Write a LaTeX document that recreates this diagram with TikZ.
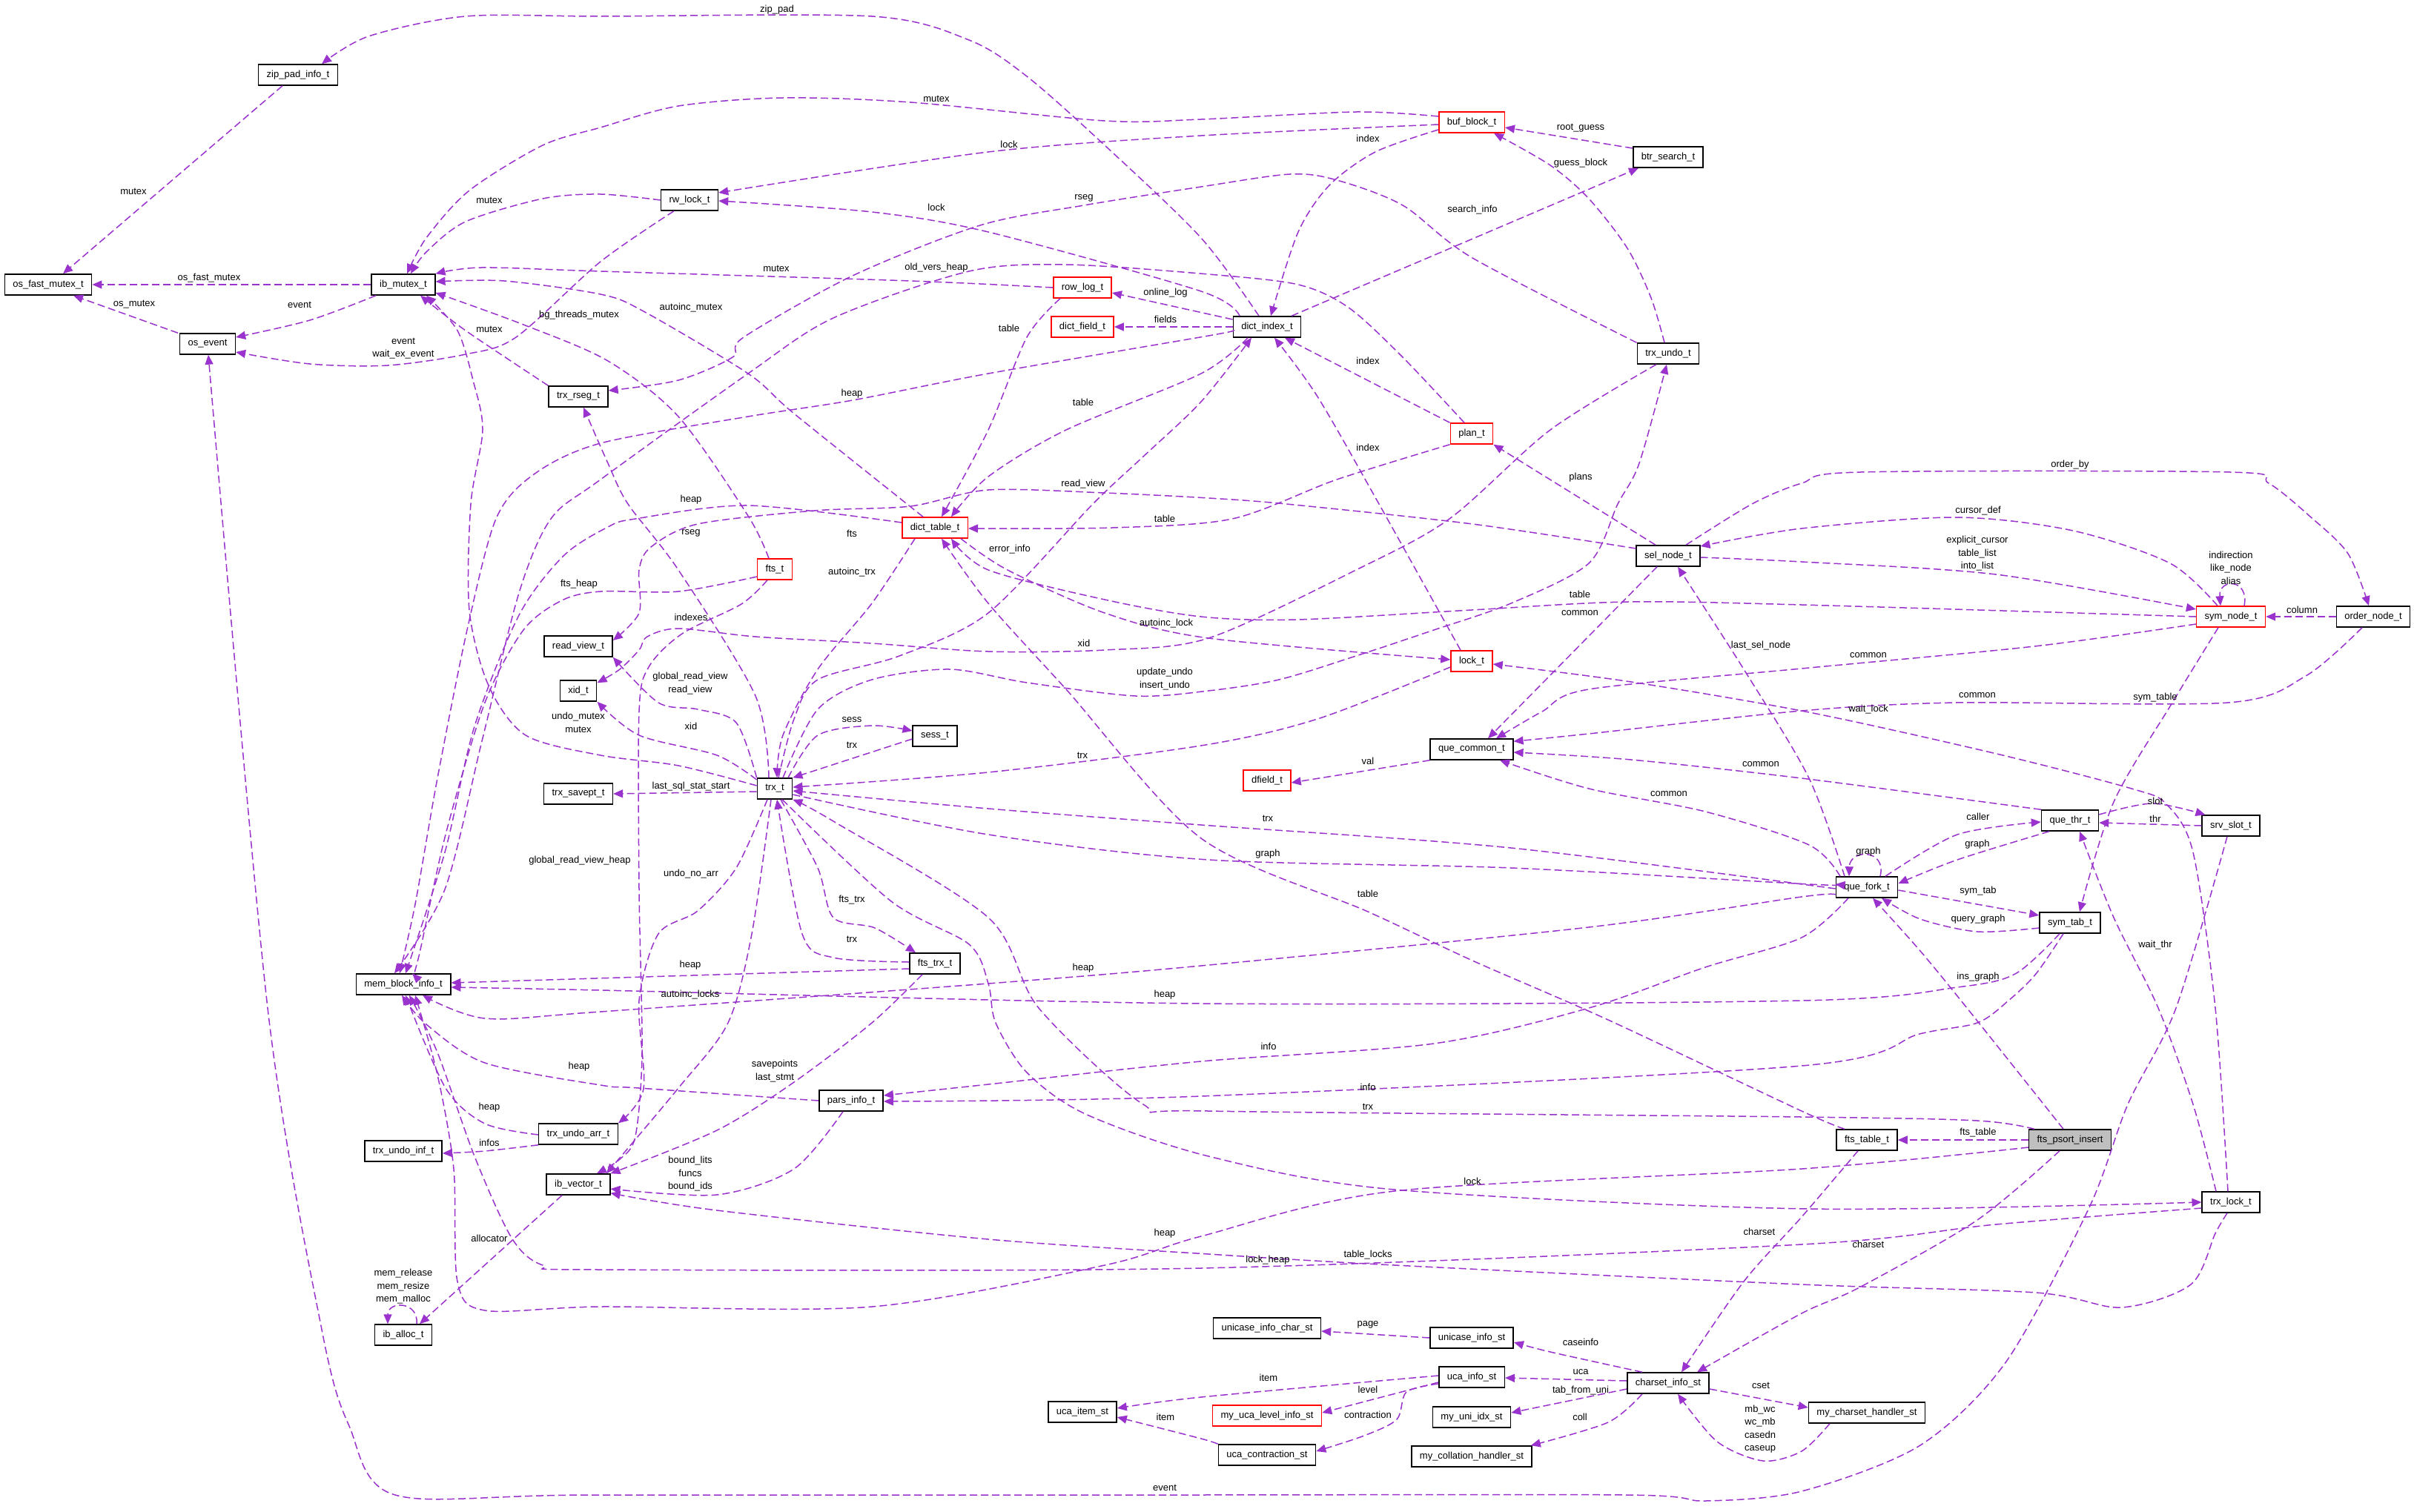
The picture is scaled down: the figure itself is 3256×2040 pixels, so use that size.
\documentclass[tikz,border=0pt]{standalone}
\usepackage{fontspec}
\setmainfont{Liberation Sans}
\usetikzlibrary{arrows.meta}
\definecolor{edgec}{HTML}{9A32CD}
\definecolor{greyfill}{HTML}{BFBFBF}
\begin{document}
\begin{tikzpicture}[x=1pt,y=-1pt,
  box/.style={draw=black,line width=1.5pt,fill=white,minimum height=28pt,inner xsep=11pt,inner ysep=2pt,font=\fontsize{13}{17.5}\selectfont},
  rbox/.style={box,draw=red},
  gbox/.style={box,fill=greyfill},
  edge/.style={draw=edgec,line width=1.5pt,dash pattern=on 10pt off 5pt,-{Triangle[length=13pt,width=11pt]}},
  lbl/.style={font=\fontsize{13}{17.5}\selectfont,inner sep=0pt,align=center}]
\fill[white] (0,0) rectangle (3256,2040);
\useasboundingbox (0,0) rectangle (3256,2040);
% ---------------- nodes
\node[box] (zip) at (402,101) {zip\_pad\_info\_t};
\node[box] (osfm) at (65,384) {os\_fast\_mutex\_t};
\node[box] (ibm) at (544,384) {ib\_mutex\_t};
\node[box] (osev) at (280,464) {os\_event};
\node[box] (rseg) at (780,535) {trx\_rseg\_t};
\node[box] (rwl) at (930,270) {rw\_lock\_t};
\node[rbox] (rowlog) at (1460,388) {row\_log\_t};
\node[rbox] (dfield) at (1460,441) {dict\_field\_t};
\node[rbox] (dtable) at (1261,712) {dict\_table\_t};
\node[rbox] (buf) at (1985,165) {buf\_block\_t};
\node[box] (btr) at (2250,212) {btr\_search\_t};
\node[box] (dindex) at (1709,441) {dict\_index\_t};
\node[box] (undo) at (2250,477) {trx\_undo\_t};
\node[rbox] (plan) at (1985,585) {plan\_t};
\node[box] (rview) at (780,872) {read\_view\_t};
\node[box] (xid) at (780,932) {xid\_t};
\node[box] (savept) at (780,1071) {trx\_savept\_t};
\node[box] (mem) at (544,1328) {mem\_block\_info\_t};
\node[rbox] (fts) at (1045,768) {fts\_t};
\node[box] (sess) at (1261,993) {sess\_t};
\node[box] (trx) at (1045,1064) {trx\_t};
\node[box] (ftstrx) at (1261,1300) {fts\_trx\_t};
\node[box] (sel) at (2250,750) {sel\_node\_t};
\node[rbox] (lock) at (1985,892) {lock\_t};
\node[box] (qcommon) at (1985,1011) {que\_common\_t};
\node[rbox] (dfieldt) at (1709,1053) {dfield\_t};
\node[rbox] (sym) at (3009,832) {sym\_node\_t};
\node[box] (order) at (3201,832) {order\_node\_t};
\node[box] (qthr) at (2792,1107) {que\_thr\_t};
\node[box] (slot) at (3009,1114) {srv\_slot\_t};
\node[box] (qfork) at (2518,1197) {que\_fork\_t};
\node[box] (symtab) at (2792,1245) {sym\_tab\_t};
\node[box] (undoinf) at (544,1553) {trx\_undo\_inf\_t};
\node[box] (undoarr) at (780,1530) {trx\_undo\_arr\_t};
\node[box] (vec) at (780,1598) {ib\_vector\_t};
\node[box] (alloc) at (544,1801) {ib\_alloc\_t};
\node[box] (pars) at (1148,1485) {pars\_info\_t};
\node[box] (ucaitem) at (1460,1905) {uca\_item\_st};
\node[box] (uichar) at (1709,1792) {unicase\_info\_char\_st};
\node[box] (uinfo) at (1985,1805) {unicase\_info\_st};
\node[box] (ucainfo) at (1985,1858) {uca\_info\_st};
\node[rbox] (ucalevel) at (1709,1910) {my\_uca\_level\_info\_st};
\node[box] (uniidx) at (1985,1912) {my\_uni\_idx\_st};
\node[box] (ucacontr) at (1709,1963) {uca\_contraction\_st};
\node[box] (collh) at (1985,1965) {my\_collation\_handler\_st};
\node[box] (cs) at (2250,1866) {charset\_info\_st};
\node[box] (ftstable) at (2518,1538) {fts\_table\_t};
\node[gbox] (psort) at (2792,1538) {fts\_psort\_insert};
\node[box] (trxlock) at (3009,1622) {trx\_lock\_t};
\node[box] (csh) at (2518,1906) {my\_charset\_handler\_st};
% ---------------- edges
\draw[edge] ([xshift=-21pt]zip.south) -- ([xshift=20pt]osfm.north);
\draw[edge] plot[smooth] coordinates {([xshift=-11pt]dindex.north) (1620,321) (1490,196) (1385,103) (1307,54) (1176,22) (810,22) (628,22) (497,49) ([xshift=32pt]zip.north)};
\draw[edge] (ibm) -- (osfm);
\draw[edge] plot[smooth] coordinates {([xshift=-37pt]ibm.south) (418,432) ([yshift=9pt]osev.east)};
\draw[edge] ([xshift=-40pt]osev.north) -- ([xshift=34pt]osfm.south);
\draw[edge] plot[smooth] coordinates {(rwl.west) (810,262) (732,268) (628,299) (575,340) ([xshift=10pt]ibm.north)};
\draw[edge] plot[smooth] coordinates {([xshift=-21pt]rwl.south) (810,353) (696,455) (628,478) (523,493) (418,491) ([yshift=-11pt]osev.east)};
\draw[edge] plot[smooth] coordinates {([yshift=8pt]buf.west) (1829,151) (1620,161) (1490,163) (1228,138) (1056,132) (915,143) (810,172) (732,196) (633,257) (575,321) ([xshift=5pt]ibm.north)};
\draw[edge] plot[smooth] coordinates {([yshift=-3pt]buf.west) (1620,183) (1333,205) ([yshift=10pt]rwl.east)};
\draw[edge] plot[smooth] coordinates {([yshift=-10pt]buf.west) (1855,205) (1793,250) (1751,313) ([xshift=5pt]dindex.north)};
\draw[edge] ([yshift=12pt]btr.west) -- ([yshift=-7pt]buf.east);
\draw[edge] ([xshift=33pt]dindex.north) -- ([xshift=-40pt]btr.south);
\draw[edge] plot[smooth] coordinates {([xshift=-5pt]undo.north) (2227,402) (2195,335) (2143,268) (2091,223) ([xshift=30pt]buf.south)};
\draw[edge] plot[smooth] coordinates {([xshift=-37pt]dindex.north) (1620,393) (1333,313) (1176,286) ([yshift=-1pt]rwl.east)};
\draw[edge] plot[smooth] coordinates {(undo.north west) (1986,348) (1892,277) (1803,243) (1740,235) (1620,252) (1462,277) (1322,304) (1150,372) (1003,455) (988,482) (915,513) ([yshift=8pt]rseg.east)};
\draw[edge] plot[smooth] coordinates {(rowlog.west) (1228,379) (810,366) (649,361) (ibm.north east)};
\draw[edge] plot[smooth] coordinates {([xshift=-30pt]rowlog.south) (1385,455) (1333,580) ([xshift=9pt]dtable.north)};
\draw[edge] ([yshift=10pt]dindex.west) -- ([yshift=-7pt]rowlog.east);
\draw[edge] (dindex.west) -- (dfield.east);
\draw[edge] plot[smooth] coordinates {([xshift=-26pt]dindex.south) (1620,504) (1438,580) (1333,643) ([xshift=22pt]dtable.north)};
\draw[edge] plot[smooth] coordinates {([yshift=-5pt]dindex.west) (1630,453) (1333,504) (1150,540) (1009,562) (810,598) (720,640) (669,700) (630,850) (590,1050) (560,1220) ([xshift=-5pt]mem.north)};
\draw[edge] (plan.north west) -- ([xshift=24pt]dindex.south);
\draw[edge] plot[smooth] coordinates {(plan.south west) (1803,647) (1662,700) (1500,712) ([yshift=-1pt]dtable.east)};
\draw[edge] plot[smooth] coordinates {([xshift=-15pt]lock.north) (1860,680) (1777,535) ([xshift=10pt]dindex.south)};
\draw[edge] ([xshift=-17pt]sel.north) -- (plan.south east);
\draw[edge] plot[smooth] coordinates {([xshift=11pt]trx.north) (1103,957) (1176,917) (1281,903) (1385,921) (1532,939) (1630,932) (1725,917) (1829,885) (1934,850) (2038,814) (2143,760) (2182,680) (2211,625) ([xshift=-2pt]undo.south)};
\draw[edge] plot[smooth] coordinates {([xshift=5pt]trx.north) (1071,970) (1103,917) (1213,885) (1333,827) (1474,680) (1542,616) (1620,542) ([xshift=-21pt]dindex.south)};
\draw[edge] plot[smooth] coordinates {([xshift=-27pt]dtable.south) (1176,814) (1103,903) (1056,992) ([xshift=3pt]trx.north)};
\draw[edge] plot[smooth] coordinates {([yshift=7pt]dtable.west) (1009,682) (857,700) (820,711) (760,750) (700,830) (640,980) (600,1150) ([xshift=3pt]mem.north)};
\draw[edge] plot[smooth] coordinates {([yshift=10pt]sel.west) (1986,707) (1735,680) (1630,672) (1490,665) (1333,661) (1228,683) (1098,689) (941,707) (878,738) (862,769) (862,827) ([yshift=8pt]rview.east)};
\draw[edge] plot[smooth] coordinates {([xshift=-10pt]plan.north) (1892,482) (1819,415) (1751,384) (1630,370) (1438,357) (1307,366) (1124,429) (1009,504) (810,647) (743,700) (700,800) (650,1000) (600,1200) ([xshift=-12pt]mem.north)};
\draw[edge] plot[smooth] coordinates {([yshift=-8pt]lock.west) (1777,970) (1620,1006) (1333,1042) ([yshift=2pt]trx.east)};
\draw[edge] plot[smooth] coordinates {([xshift=35pt]dtable.south) (1359,769) (1490,827) (1630,861) ([yshift=2pt]lock.west)};
\draw[edge] plot[smooth] coordinates {(sym.west) (2430,816) (2195,812) (1985,823) (1750,836) (1620,832) (1490,809) (1333,769) ([xshift=22pt]dtable.south)};
\draw[edge] plot[smooth] coordinates {([xshift=-30pt]ftstable.north) (2430,1499) (2169,1376) (1986,1296) (1845,1230) (1620,1131) (1438,930) (1333,814) ([xshift=9pt]dtable.south)};
\draw[edge] plot[smooth] coordinates {([xshift=24pt]sel.north) (2363,680) (2430,652) (2509,637) (3008,637) (3060,652) (3116,697) (3167,747) ([xshift=-6pt]order.north)};
\draw[edge] plot[smooth] coordinates {([xshift=-18pt]sym.north) (2927,760) (2796,716) (2639,698) (2430,713) ([yshift=13pt]sel.east)};
\draw[edge] plot[smooth] coordinates {([yshift=-2pt]sel.east) (2430,758) (2692,775) ([yshift=10pt]sym.west)};
\draw[edge] ([xshift=18pt]sym.north) .. controls (3034,780) and (2992,780) .. ([xshift=-14pt]sym.north);
\draw[edge] (order) -- (sym);
\draw[edge] plot[smooth] coordinates {([yshift=-10pt]sym.west) (2744,872) (2430,902) (2143,930) (2080,960) ([xshift=33pt]qcommon.north)};
\draw[edge] ([xshift=-15pt]sel.south) -- ([xshift=22pt]qcommon.north);
\draw[edge] plot[smooth] coordinates {([xshift=-15pt]order.south) (3110,912) (3005,948) (2638,948) (2430,959) (2143,990) ([yshift=-4pt]qcommon.north east)};
\draw[edge] plot[smooth] coordinates {(qthr.north west) (2430,1050) (2200,1025) ([yshift=-4pt]qcommon.east)};
\draw[edge] plot[smooth] coordinates {([xshift=-36pt]qfork.north) (2440,1140) (2300,1095) (2143,1064) ([xshift=38pt]qcommon.south)};
\draw[edge] plot[smooth] coordinates {(qcommon.south west) (1829,1042) ([yshift=-3pt]dfieldt.east)};
\draw[edge] plot[smooth] coordinates {([xshift=-17pt]sym.south) (2930,948) (2851,1082) ([xshift=13pt]symtab.north)};
\draw[edge] plot[smooth] coordinates {([xshift=-4pt]trxlock.north) (2988,1360) (2958,1150) (2922,1085) (2875,1064) (2693,1017) (2440,961) (2200,920) ([yshift=-4pt]lock.east)};
\draw[edge] plot[smooth] coordinates {([xshift=-20pt]trxlock.north) (2958,1490) (2911,1360) (2851,1238) ([xshift=13pt]qthr.south)};
\draw[edge] plot[smooth] coordinates {([yshift=8pt]qthr.east) (2903,1084) ([xshift=5pt]slot.north west)};
\draw[edge] (slot.west) -- ([yshift=-3pt]qthr.east);
\draw[edge] plot[smooth] coordinates {([xshift=-5pt]slot.south) (2935,1360) (2870,1490) (2818,1629) (2706,1837) (2590,1950) (2430,2012) (2300,2025) (2195,2017) (1571,2017) (800,2017) (533,2017) (471,1924) (434,1794) (361,1360) ([xshift=1pt]osev.south)};
\draw[edge] plot[smooth] coordinates {([xshift=-28pt]qthr.south) (2640,1160) ([yshift=5pt]qfork.east)};
\draw[edge] plot[smooth] coordinates {([xshift=25pt]qfork.north) (2640,1126) ([yshift=-2pt]qthr.west)};
\draw[edge] ([xshift=18pt]qfork.north) .. controls (2545,1145) and (2495,1145) .. ([xshift=-24pt]qfork.north);
\draw[edge] ([yshift=-4pt]qfork.east) -- ([yshift=10pt]symtab.west);
\draw[edge] plot[smooth] coordinates {([yshift=-7pt]symtab.west) (2667,1257) (2590,1240) ([xshift=20pt]qfork.south)};
\draw[edge] plot[smooth] coordinates {([xshift=-30pt]qfork.north) (2440,1050) (2352,903) ([xshift=13pt]sel.south)};
\draw[edge] plot[smooth] coordinates {([yshift=-8pt]trx.east) (1333,1126) (1630,1160) (2038,1171) (2440,1193) ([yshift=4pt]qfork.west)};
\draw[edge] plot[smooth] coordinates {([yshift=-2pt]qfork.west) (2038,1144) (1620,1113) (1333,1091) ([yshift=-3pt]trx.east)};
\draw[edge] plot[smooth] coordinates {([yshift=-10pt]qfork.west) (2430,1210) (2143,1251) (1620,1303) (1333,1327) (810,1365) (654,1374) ([xshift=26pt]mem.south)};
\draw[edge] plot[smooth] coordinates {([xshift=-14pt]symtab.south) (2718,1314) (2640,1332) (2430,1350) (1620,1354) (810,1336) ([yshift=-4pt]mem.east)};
\draw[edge] ([yshift=-7pt]ftstrx.west) -- ([yshift=2pt]mem.east);
\draw[edge] plot[smooth] coordinates {([xshift=-9pt]symtab.south) (2746,1314) (2709,1350) (2667,1380) (2589,1395) (2430,1438) (1620,1479) ([yshift=-1pt]pars.east)};
\draw[edge] plot[smooth] coordinates {([xshift=-25pt]qfork.south) (2430,1265) (2300,1305) (2143,1360) (1934,1408) (1620,1432) (1333,1463) ([yshift=7pt]pars.east)};
\draw[edge] plot[smooth] coordinates {([xshift=-9pt]psort.north) (2653,1360) (2590,1283) ([xshift=8pt]qfork.south)};
\draw[edge] (psort) -- (ftstable);
\draw[edge] plot[smooth] coordinates {([xshift=-48pt]psort.north) (2667,1512) (2430,1507) (1630,1499) (1542,1490) (1401,1360) (1333,1238) (1124,1108) (trx.south east)};
\draw[edge] plot[smooth] coordinates {([xshift=-14pt]psort.south) (2667,1646) (2508,1737) (2430,1772) ([xshift=39pt]cs.north)};
\draw[edge] plot[smooth] coordinates {([xshift=-12pt]ftstable.south) (2430,1642) (2352,1729) ([xshift=18pt]cs.north)};
\draw[edge] plot[smooth] coordinates {([yshift=-10pt]psort.west) (2430,1577) (1881,1607) (1620,1668) (1490,1707) (1176,1763) (810,1763) (654,1768) (617,1729) (612,1577) (590,1450) ([xshift=16pt]mem.south)};
\draw[edge] plot[smooth] coordinates {([xshift=10pt]trx.south) (1202,1216) (1307,1274) (1333,1327) (1343,1380) (1385,1447) (1464,1503) (1630,1560) (1881,1605) (2440,1631) (trxlock.west)};
\draw[edge] plot[smooth] coordinates {([yshift=-8pt]trxlock.west) (2692,1652) (2430,1679) (1620,1711) (810,1713) (732,1707) (690,1670) (640,1560) (590,1420) ([xshift=8pt]mem.south)};
\draw[edge] plot[smooth] coordinates {([xshift=-5pt]trxlock.south) (2988,1664) (2955,1733) (2861,1764) (2746,1744) (2430,1733) (1881,1707) (1630,1692) (1333,1672) (967,1633) ([yshift=3pt]vec.south east)};
\draw[edge] plot[smooth] coordinates {([xshift=-5pt]trx.south) (1014,1260) (982,1380) (915,1468) ([xshift=38pt]vec.north)};
\draw[edge] plot[smooth] coordinates {([xshift=-10pt]trx.south) (993,1171) (941,1229) (888,1260) (862,1350) (868,1469) (undoarr.north east)};
\draw[edge] plot[smooth] coordinates {([xshift=-10pt]fts.south) (1000,815) (920,855) (875,900) (862,960) (862,1200) (866,1420) (857,1533) (836,1564) ([xshift=25pt]vec.north)};
\draw[edge] plot[smooth] coordinates {([yshift=-10pt]fts.west) (915,798) (810,798) (758,810) (706,850) (654,948) (601,1126) (565,1290) ([xshift=12pt]mem.north)};
\draw[edge] plot[smooth] coordinates {([xshift=-8pt]fts.north) (1009,696) (915,562) (820,487) (706,438) ([yshift=-11pt]ibm.east)};
\draw[edge] plot[smooth] coordinates {([xshift=-16pt]dtable.north) (1071,558) (1009,504) (868,420) (810,397) (680,379) ([yshift=4pt]ibm.east)};
\draw[edge] plot[smooth] coordinates {(rseg.north west) (628,446) ([xshift=23pt]ibm.south)};
\draw[edge] plot[smooth] coordinates {([yshift=4pt]trx.west) (915,1033) (810,1019) (709,992) (659,925) (633,823) (635,680) (651,580) (638,513) (617,446) ([xshift=31pt]ibm.south)};
\draw[edge] plot[smooth] coordinates {([xshift=-8pt]trx.north) (1019,939) (915,769) (847,680) (820,625) ([xshift=7pt]rseg.south)};
\draw[edge] plot[smooth] coordinates {(trx.north west) (993,975) (941,957) (888,948) (rview.south east)};
\draw[edge] plot[smooth] coordinates {([yshift=12pt]trx.west) (967,1019) (862,992) (xid.south east)};
\draw[edge] plot[smooth] coordinates {([xshift=-16pt]undo.south) (2091,580) (1955,700) (1829,769) (1630,861) (1490,877) (1333,879) (1176,868) (1019,859) (915,848) (873,859) (862,877) (836,903) ([yshift=-4pt]xid.north east)};
\draw[edge] ([yshift=-4pt]trx.west) -- (savept.east);
\draw[edge] plot[smooth] coordinates {([xshift=18pt]trx.north) (1103,992) (1176,979) ([yshift=7pt]sess.west)};
\draw[edge] ([yshift=-4pt]sess.west) -- (trx.north east);
\draw[edge] plot[smooth] coordinates {([xshift=8pt]trx.south) (1103,1171) (1124,1238) (1180,1252) ([xshift=-26pt]ftstrx.north)};
\draw[edge] plot[smooth] coordinates {([yshift=2pt]ftstrx.west) (1124,1292) (1082,1260) ([xshift=3pt]trx.south)};
\draw[edge] plot[smooth] coordinates {([xshift=-17pt]ftstrx.south) (1176,1380) (1071,1460) (967,1525) (vec.north east)};
\draw[edge] plot[smooth] coordinates {([xshift=-11pt]pars.south) (1071,1577) (967,1612) ([yshift=-6pt]vec.east)};
\draw[edge] plot[smooth] coordinates {(pars.west) (862,1468) (810,1464) (654,1434) (575,1382) ([xshift=-2pt]mem.south)};
\draw[edge] plot[smooth] coordinates {([yshift=-1pt]undoarr.west) (654,1516) (601,1468) ([xshift=3pt]mem.south)};
\draw[edge] plot[smooth] coordinates {(undoarr.south west) (654,1553) ([yshift=-3pt]undoinf.east)};
\draw[edge] ([xshift=-22pt]vec.south) -- ([xshift=22pt]alloc.north);
\draw[edge] ([xshift=18pt]alloc.north) .. controls (565,1755) and (523,1755) .. ([xshift=-21pt]alloc.north);
\draw[edge] plot[smooth] coordinates {([xshift=-35pt]cs.north) (2091,1824) ([yshift=-6pt]uinfo.east)};
\draw[edge] ([yshift=3pt]cs.west) -- ([yshift=-1pt]ucainfo.east);
\draw[edge] ([yshift=-8pt]cs.west) -- ([yshift=6pt]uniidx.east);
\draw[edge] plot[smooth] coordinates {([xshift=-35pt]cs.south) (2169,1919) ([xshift=-2pt]collh.north east)};
\draw[edge] ([yshift=-8pt]cs.east) -- ([yshift=7pt]csh.west);
\draw[edge] plot[smooth] coordinates {([xshift=-50pt]csh.south) (2430,1958) (2378,1971) (2316,1945) ([xshift=13pt]cs.south)};
\draw[edge] (uinfo.west) -- ([yshift=-4pt]uichar.east);
\draw[edge] plot[smooth] coordinates {([yshift=2pt]ucainfo.west) (1620,1885) ([yshift=5pt]ucaitem.east)};
\draw[edge] ([yshift=-7pt]ucainfo.west) -- ([yshift=4pt]ucalevel.east);
\draw[edge] plot[smooth] coordinates {([yshift=-9pt]ucainfo.west) (1897,1878) (1884,1915) (1840,1937) ([yshift=5pt]ucacontr.east)};
\draw[edge] plot[smooth] coordinates {(ucacontr.north west) (1620,1941) ([yshift=-7pt]ucaitem.east)};
% ---------------- labels
\node[lbl] (L1) at (180,258) {mutex};
\node[lbl] (L2) at (1048,13) {zip\_pad};
\node[lbl] (L3) at (282,375) {os\_fast\_mutex};
\node[lbl] (L4) at (404,411) {event};
\node[lbl] (L5) at (181,411) {os\_mutex};
\node[lbl] (L6) at (660,270) {mutex};
\node[lbl] (L7) at (1263,133) {mutex};
\node[lbl] (L8) at (1361,195) {lock};
\node[lbl] (L9) at (1845,187) {index};
\node[lbl] (L10) at (2132,173) {root\_guess};
\node[lbl] (L11) at (1986,283) {search\_info};
\node[lbl] (L12) at (2132,220) {guess\_block};
\node[lbl] (L13) at (1263,280) {lock};
\node[lbl] (L14) at (1462,267) {rseg};
\node[lbl] (L15) at (1047,362) {mutex};
\node[lbl] (L16) at (1263,361) {old\_vers\_heap};
\node[lbl] (L17) at (1572,395) {online\_log};
\node[lbl] (L18) at (1572,431) {fields};
\node[lbl] (L19) at (932,415) {autoinc\_mutex};
\node[lbl] (L20) at (781,425) {bg\_threads\_mutex};
\node[lbl] (L21) at (544,470) {event\\wait\_ex\_event};
\node[lbl] (L22) at (660,444) {mutex};
\node[lbl] (L23) at (1361,443) {table};
\node[lbl] (L24) at (1149,531) {heap};
\node[lbl] (L25) at (1461,543) {table};
\node[lbl] (L26) at (1845,487) {index};
\node[lbl] (L27) at (1845,604) {index};
\node[lbl] (L28) at (2132,644) {plans};
\node[lbl] (L29) at (932,674) {heap};
\node[lbl] (L30) at (1461,653) {read\_view};
\node[lbl] (L31) at (1571,700) {table};
\node[lbl] (L32) at (2792,627) {order\_by};
\node[lbl] (L33) at (2668,689) {cursor\_def};
\node[lbl] (L34) at (2667,747) {explicit\_cursor\\table\_list\\into\_list};
\node[lbl] (L35) at (3009,766) {indirection\\like\_node\\alias};
\node[lbl] (L36) at (3105,823) {column};
\node[lbl] (L37) at (932,719) {rseg};
\node[lbl] (L38) at (1149,720) {fts};
\node[lbl] (L39) at (1362,741) {error\_info};
\node[lbl] (L40) at (1149,772) {autoinc\_trx};
\node[lbl] (L41) at (932,833) {indexes};
\node[lbl] (L42) at (1573,841) {autoinc\_lock};
\node[lbl] (L43) at (1462,868) {xid};
\node[lbl] (L44) at (931,922) {global\_read\_view\\read\_view};
\node[lbl] (L45) at (1571,916) {update\_undo\\insert\_undo};
\node[lbl] (L46) at (1149,971) {sess};
\node[lbl] (L47) at (1149,1005) {trx};
\node[lbl] (L48) at (932,980) {xid};
\node[lbl] (L49) at (1460,1019) {trx};
\node[lbl] (L50) at (932,1061) {last\_sql\_stat\_start};
\node[lbl] (L51) at (932,1179) {undo\_no\_arr};
\node[lbl] (L52) at (1149,1214) {fts\_trx};
\node[lbl] (L53) at (1149,1267) {trx};
\node[lbl] (L54) at (931,1302) {heap};
\node[lbl] (L55) at (931,1342) {autoinc\_locks};
\node[lbl] (L56) at (1461,1306) {heap};
\node[lbl] (L57) at (1571,1342) {heap};
\node[lbl] (L58) at (781,788) {fts\_heap};
\node[lbl] (L59) at (780,975) {undo\_mutex\\mutex};
\node[lbl] (L60) at (782,1161) {global\_read\_view\_heap};
\node[lbl] (L61) at (2131,802) {table};
\node[lbl] (L62) at (2131,827) {common};
\node[lbl] (L63) at (2375,871) {last\_sel\_node};
\node[lbl] (L64) at (1845,1027) {val};
\node[lbl] (L65) at (2375,1031) {common};
\node[lbl] (L66) at (2251,1071) {common};
\node[lbl] (L67) at (1710,1104) {trx};
\node[lbl] (L68) at (1710,1152) {graph};
\node[lbl] (L69) at (1845,1206) {table};
\node[lbl] (L70) at (2520,884) {common};
\node[lbl] (L71) at (2667,938) {common};
\node[lbl] (L72) at (2520,957) {wait\_lock};
\node[lbl] (L73) at (2907,941) {sym\_table};
\node[lbl] (L74) at (2907,1081) {slot};
\node[lbl] (L75) at (2907,1105) {thr};
\node[lbl] (L76) at (2668,1102) {caller};
\node[lbl] (L77) at (2667,1139) {graph};
\node[lbl] (L78) at (2520,1149) {graph};
\node[lbl] (L79) at (2668,1202) {sym\_tab};
\node[lbl] (L80) at (2668,1240) {query\_graph};
\node[lbl] (L81) at (2907,1275) {wait\_thr};
\node[lbl] (L82) at (2668,1318) {ins\_graph};
\node[lbl] (L83) at (2668,1528) {fts\_table};
\node[lbl] (L84) at (2520,1679) {charset};
\node[lbl] (L85) at (781,1439) {heap};
\node[lbl] (L86) at (660,1494) {heap};
\node[lbl] (L87) at (660,1542) {infos};
\node[lbl] (L88) at (660,1671) {allocator};
\node[lbl] (L89) at (544,1736) {mem\_release\\mem\_resize\\mem\_malloc};
\node[lbl] (L90) at (1045,1445) {savepoints\\last\_stmt};
\node[lbl] (L91) at (931,1584) {bound\_lits\\funcs\\bound\_ids};
\node[lbl] (L92) at (1571,1664) {heap};
\node[lbl] (L93) at (1572,1912) {item};
\node[lbl] (L94) at (1571,2007) {event};
\node[lbl] (L95) at (1711,1412) {info};
\node[lbl] (L96) at (1845,1467) {info};
\node[lbl] (L97) at (1845,1493) {trx};
\node[lbl] (L98) at (1986,1594) {lock};
\node[lbl] (L99) at (2373,1662) {charset};
\node[lbl] (L100) at (1845,1693) {table\_locks};
\node[lbl] (L101) at (1710,1700) {lock\_heap};
\node[lbl] (L102) at (1845,1787) {page};
\node[lbl] (L103) at (2132,1811) {caseinfo};
\node[lbl] (L104) at (2132,1851) {uca};
\node[lbl] (L105) at (1711,1859) {item};
\node[lbl] (L106) at (2132,1876) {tab\_from\_uni};
\node[lbl] (L107) at (1845,1875) {level};
\node[lbl] (L108) at (2375,1869) {cset};
\node[lbl] (L109) at (2374,1928) {mb\_wc\\wc\_mb\\casedn\\caseup};
\node[lbl] (L110) at (1845,1909) {contraction};
\node[lbl] (L111) at (2131,1912) {coll};
\end{tikzpicture}
\end{document}
